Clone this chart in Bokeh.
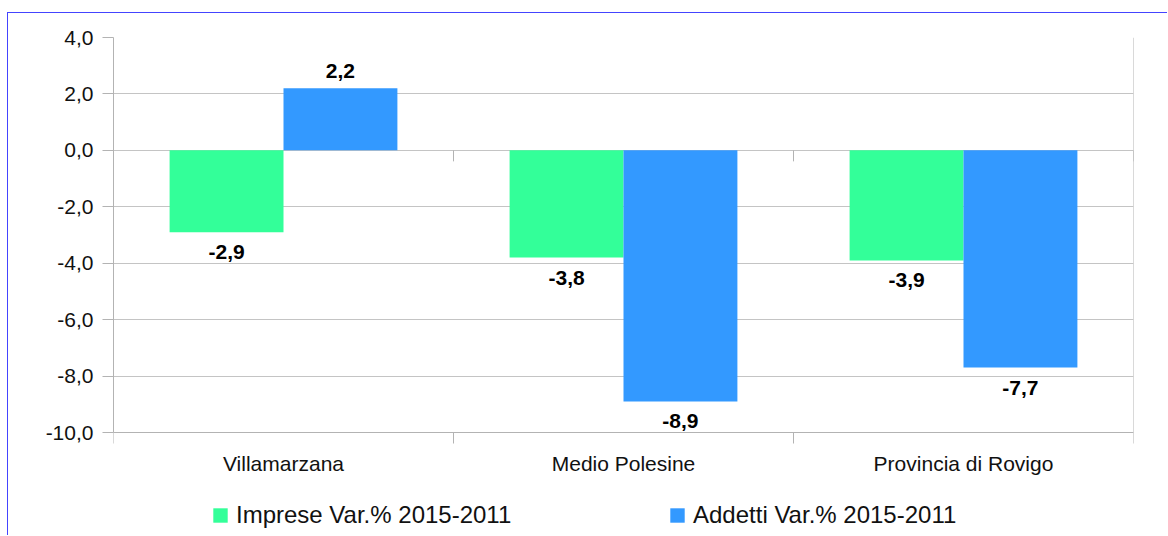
import math
from bokeh.plotting import figure
from bokeh.models import (ColumnDataSource, FixedTicker, Legend, LegendItem,
                          Range1d, LabelSet)
from bokeh.core.properties import value
from bokeh.embed import file_html
from bokeh.resources import INLINE

# ---- data ----
categories = ["Villamarzana", "Medio Polesine", "Provincia di Rovigo"]
imprese = [-2.9, -3.8, -3.9]
addetti = [2.2, -8.9, -7.7]
series_names = ["Imprese Var.% 2015-2011", "Addetti Var.% 2015-2011"]
y_ticks = [-10, -8, -6, -4, -2, 0, 2, 4]

GREEN = "#33ff99"
BLUE = "#3399ff"
GRID = "#c4c4c4"
AXIS = "#b3b3b3"
FONT = "Liberation Sans"


def fmt(v):
    return f"{v:.1f}".replace(".", ",")


n = len(categories)
centers = [i + 0.5 for i in range(n)]
boundaries = list(range(n + 1))
bar_w = 0.335
off = bar_w / 2

y_min, y_max = min(y_ticks), max(y_ticks)
# plot area: 395 px for the value span, plus 104 px below it for the
# category labels and the legend
span_px, below_px = 395, 104
y_lo = y_min - below_px * (y_max - y_min) / span_px

src_i = ColumnDataSource(dict(x=[c - off for c in centers], top=imprese))
src_a = ColumnDataSource(dict(x=[c + off for c in centers], top=addetti))

p = figure(width=1160, height=523, output_backend="svg", toolbar_location=None,
           x_range=Range1d(0, n), y_range=Range1d(y_lo, y_max),
           min_border_left=105, min_border_right=35,
           min_border_top=24, min_border_bottom=0)
p.styles = {"border-left": "1px solid #4444ff", "border-top": "1px solid #4444ff",
            "margin-top": "12px", "margin-left": "7px"}
p.background_fill_color = "white"
p.border_fill_color = "white"
p.outline_line_color = None

r1 = p.vbar(x="x", top="top", bottom=0, width=bar_w, source=src_i,
            fill_color=GREEN, line_color=None)
r2 = p.vbar(x="x", top="top", bottom=0, width=bar_w, source=src_a,
            fill_color=BLUE, line_color=None)

# right edge of the plot area
p.segment(x0=[n], y0=[y_min], x1=[n], y1=[y_max], line_color=AXIS, line_width=1)

# small ticks hanging from the zero line at category boundaries
p.ray(x=boundaries, y=[0] * len(boundaries), length=11, length_units="screen",
      angle=-math.pi / 2, line_color=AXIS, line_width=1)

# ---- y axis ----
p.yaxis.ticker = FixedTicker(ticks=y_ticks, minor_ticks=[])
p.yaxis.bounds = (y_min, y_max)
p.yaxis.major_label_overrides = {t: fmt(t) for t in y_ticks}
p.yaxis.axis_line_color = AXIS
p.yaxis.major_tick_line_color = AXIS
p.yaxis.major_tick_out = 11
p.yaxis.major_tick_in = 0
p.yaxis.minor_tick_line_color = None
p.yaxis.major_label_standoff = 9
p.yaxis.major_label_text_font = FONT
p.yaxis.major_label_text_font_size = "21px"
p.yaxis.major_label_text_color = "#111111"

p.ygrid.ticker = FixedTicker(ticks=y_ticks)
p.ygrid.grid_line_color = GRID
p.xgrid.grid_line_color = None

# ---- x axis (sits on the lowest value line) ----
p.xaxis.fixed_location = y_min
p.xaxis.ticker = FixedTicker(ticks=centers, minor_ticks=boundaries)
p.xaxis.major_label_overrides = {c: name for c, name in zip(centers, categories)}
p.xaxis.axis_line_color = AXIS
p.xaxis.major_tick_line_color = None
p.xaxis.minor_tick_line_color = AXIS
p.xaxis.minor_tick_out = 11
p.xaxis.minor_tick_in = 0
p.xaxis.major_label_standoff = 8
p.xaxis.major_label_text_font = FONT
p.xaxis.major_label_text_font_size = "21px"
p.xaxis.major_label_text_color = "#111111"

# ---- data labels ----
lab_x = [c - off for c in centers] + [c + off for c in centers]
lab_v = imprese + addetti
lab_src = ColumnDataSource(dict(
    x=lab_x, y=lab_v, text=[fmt(v) for v in lab_v],
    yoff=[17 if v >= 0 else -20 for v in lab_v]))
labels = LabelSet(x="x", y="y", text="text", y_offset="yoff", source=lab_src,
                  text_align="center", text_baseline="middle",
                  text_font=value(FONT), text_font_size="21px",
                  text_font_style="bold", text_color="#000000")
p.add_layout(labels)

# ---- legend ----
legend = Legend(items=[LegendItem(label=series_names[0], renderers=[r1]),
                       LegendItem(label=series_names[1], renderers=[r2])],
                orientation="horizontal", location=(98, 7),
                glyph_width=18, glyph_height=18, label_standoff=7,
                label_width=340, spacing=92, padding=0, margin=0,
                border_line_color=None, background_fill_alpha=0,
                label_text_font=FONT, label_text_font_size="24px",
                label_text_color="#111111")
p.add_layout(legend)

open("out.html", "w").write(file_html(p, INLINE))
